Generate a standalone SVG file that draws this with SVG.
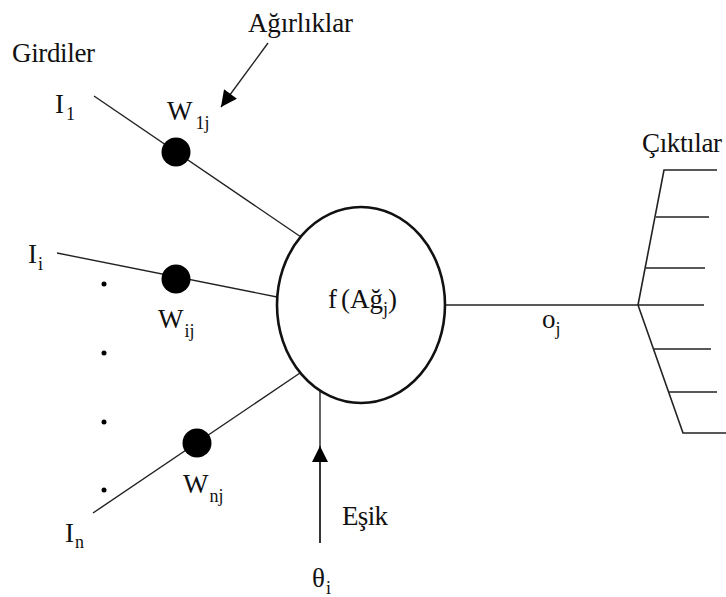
<svg xmlns="http://www.w3.org/2000/svg" width="726" height="597" viewBox="0 0 726 597">
<style>
.t{font-size:27px}
.s{font-size:18px}
.ln{stroke:#222;stroke-width:1.4;fill:none}
.out{stroke:#222;stroke-width:1.6;fill:none}
.w{fill:#000}
</style>
<defs>
<marker id="ah" viewBox="0 0 10 10" refX="10" refY="5" markerWidth="20" markerHeight="16" markerUnits="userSpaceOnUse" orient="auto">
<path d="M0,0 L10,5 L0,10 z" fill="#000"/>
</marker>
</defs>
<rect width="726" height="597" fill="#fff"/>
<g id="connectors">
<line class="ln" x1="94" y1="96" x2="301" y2="237"/>
<line class="ln" x1="57" y1="253" x2="277" y2="297"/>
<line class="ln" x1="93" y1="513" x2="300" y2="373"/>
<line class="ln" x1="268" y1="43" x2="221" y2="107" marker-end="url(#ah)"/>
<line class="ln" x1="320" y1="543" x2="320" y2="391"/>
<line class="ln" x1="320" y1="543" x2="320" y2="446" marker-end="url(#ah)" stroke-width="0.01"/>
<line class="out" x1="445" y1="305" x2="638" y2="305"/>
</g>
<g id="labels" font-family="Times New Roman, Liberation Serif, DejaVu Serif, serif" fill="#111">
<text class="t" x="12" y="62" textLength="83">Girdiler</text>
<text class="t" x="248" y="32" textLength="105">Ağırlıklar</text>
<text x="55" y="113"><tspan class="t">I</tspan><tspan class="s" dx="2" dy="7">1</tspan></text>
<text x="28" y="263"><tspan class="t">I</tspan><tspan class="s" dx="1" dy="7">i</tspan></text>
<text x="65" y="542"><tspan class="t">I</tspan><tspan class="s" dx="1" dy="6">n</tspan></text>
<text x="167" y="120"><tspan class="t">W</tspan><tspan class="s" dx="3" dy="9">1j</tspan></text>
<text x="158" y="328"><tspan class="t">W</tspan><tspan class="s" dx="1" dy="9">ij</tspan></text>
<text x="183" y="493"><tspan class="t">W</tspan><tspan class="s" dx="1" dy="9">nj</tspan></text>
<text class="t" x="342" y="525" textLength="46">Eşik</text>
<text x="312" y="587"><tspan class="t">θ</tspan><tspan class="s" dx="1" dy="7">i</tspan></text>
<text x="542" y="328"><tspan class="t">o</tspan><tspan class="s" dx="0" dy="7">j</tspan></text>
<text class="t" x="642" y="152" textLength="80">Çıktılar</text>
</g>
<g id="weights">
<circle class="w" cx="176" cy="152" r="14.5"/>
<circle class="w" cx="176" cy="279" r="14.5"/>
<circle class="w" cx="197" cy="443" r="14.5"/>
</g>
<g id="dots">
<circle class="w" cx="104" cy="284" r="2.5"/>
<circle class="w" cx="104" cy="353" r="2.5"/>
<circle class="w" cx="104" cy="422" r="2.5"/>
<circle class="w" cx="104" cy="490" r="2.5"/>
</g>
<g id="neuron">
<ellipse cx="361" cy="305" rx="84" ry="98" fill="#fff" stroke="#111" stroke-width="2.6"/>
<text x="328" y="308" font-family="Times New Roman, Liberation Serif, DejaVu Serif, serif" fill="#111"><tspan class="t">f</tspan><tspan class="t" dx="4">(Ağ</tspan><tspan class="s" dy="7">j</tspan><tspan class="t" dy="-7">)</tspan></text>
</g>
<g id="outputs">
<polyline class="out" points="717,170 664,170 638,305 683,433 726,433"/>
<line class="out" x1="656" y1="217" x2="709" y2="217"/>
<line class="out" x1="646" y1="268" x2="705" y2="268"/>
<line class="out" x1="638" y1="305" x2="704" y2="305"/>
<line class="out" x1="654" y1="349" x2="711" y2="349"/>
<line class="out" x1="668" y1="392" x2="717" y2="392"/>
</g>
</svg>
